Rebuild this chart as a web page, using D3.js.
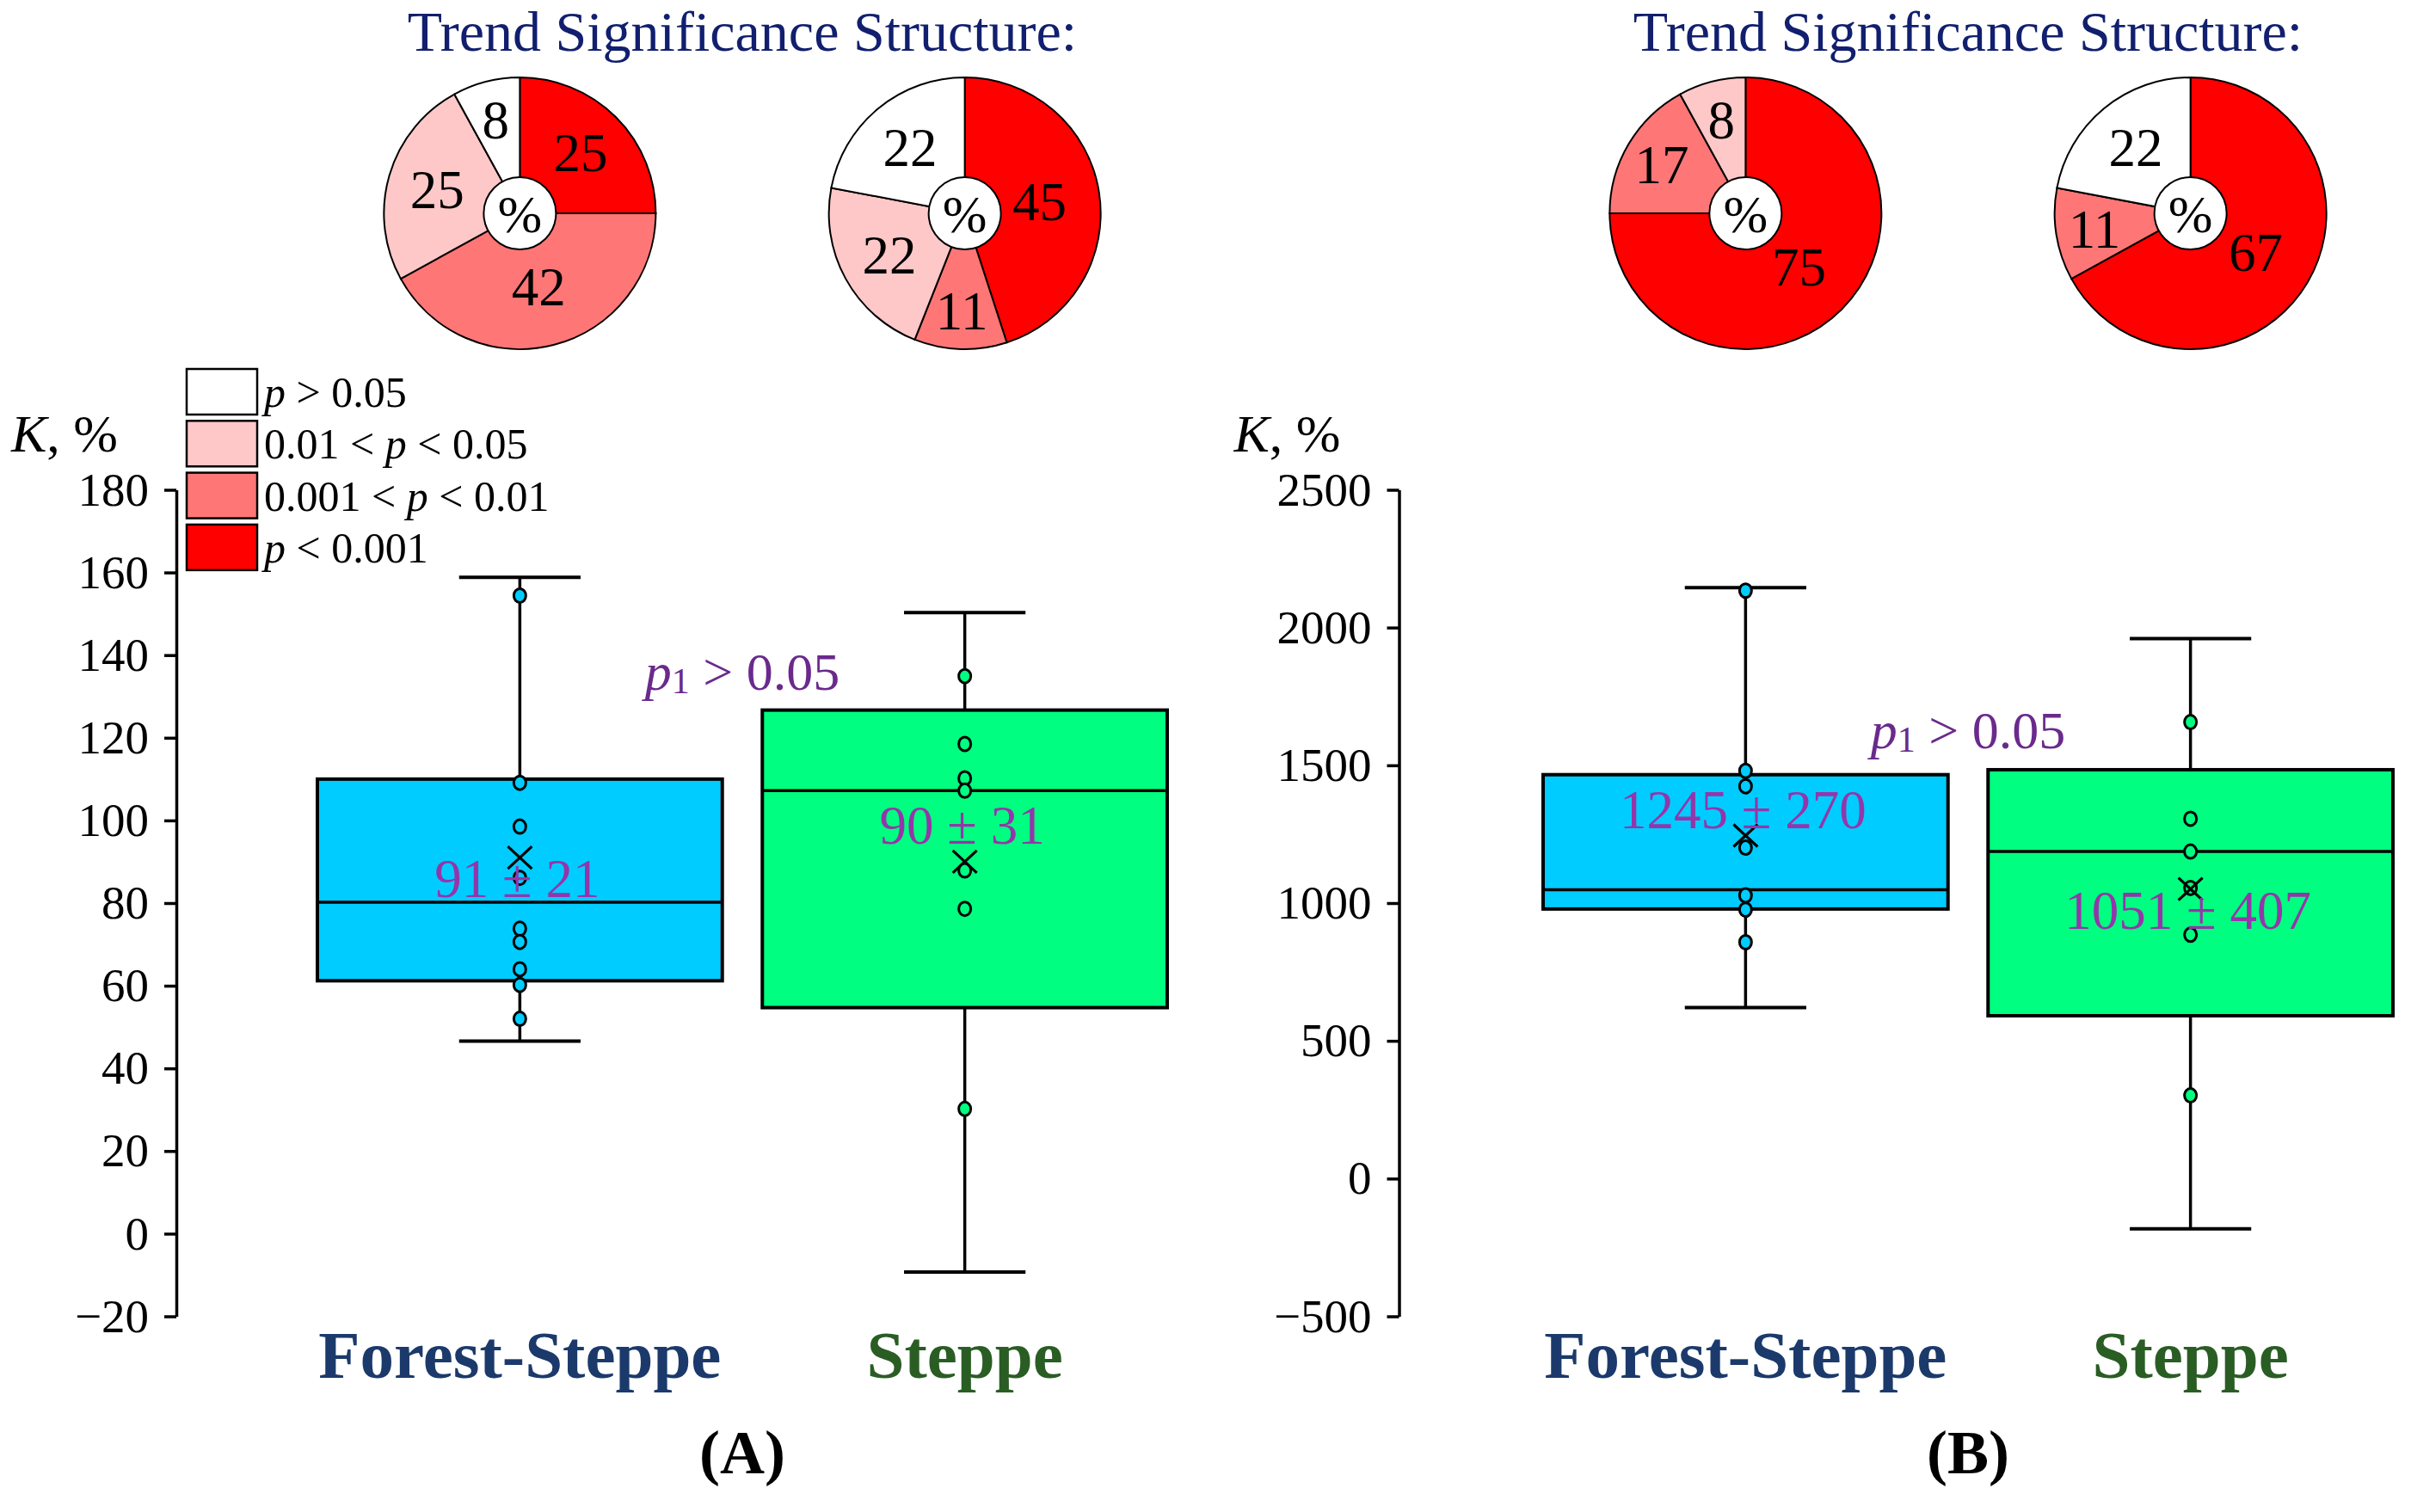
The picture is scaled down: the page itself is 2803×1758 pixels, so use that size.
<!DOCTYPE html>
<html>
<head>
<meta charset="utf-8">
<script src="https://cdn.jsdelivr.net/npm/d3@7"></script>
<style>
  html, body { margin: 0; padding: 0; background: #ffffff; }
  svg { display: block; }
</style>
</head>
<body>
<svg id="chart" width="2803" height="1758"></svg>
<script>
// ---------------- DATA ----------------
const categories = ["Forest-Steppe", "Steppe"];
const panelLetters = ["A", "B"];

// y tick labels
const yTicksA = [-20, 0, 20, 40, 60, 80, 100, 120, 140, 160, 180];
const yTicksB = [-500, 0, 500, 1000, 1500, 2000, 2500];

// Panel A box statistics: [Forest-Steppe, Steppe]
const lowA  = [46.6, -9.3];
const q1A   = [61.2, 54.7];
const medA  = [80.2, 107.2];
const q3A   = [110.0, 126.7];
const highA = [158.8, 150.3];
const meanA = [91, 90];
const sdA   = [21, 31];
const pointsA_FS = [154.4, 109.1, 98.5, 86.1, 73.8, 70.6, 64.0, 60.2, 52.0];
const pointsA_St = [134.9, 118.5, 110.2, 107.2, 87.9, 78.6, 30.2];

// Panel B box statistics
const lowB  = [621, -182];
const q1B   = [978.5, 591];
const medB  = [1048, 1187];
const q3B   = [1466, 1484];
const highB = [2145, 1960];
const meanB = [1245, 1051];
const sdB   = [270, 407];
const pointsB_FS = [2134, 1480, 1424, 1201, 1028, 976, 858];
const pointsB_St = [1657, 1306, 1187, 1055, 885, 302];

// Trend significance structure (%), order: p<0.001, 0.001<p<0.01, 0.01<p<0.05, p>0.05
const sigLevels = ["p < 0.001", "0.001 < p < 0.01", "0.01 < p < 0.05", "p > 0.05"];
const pieA_FS = [25, 42, 25, 8];
const pieA_St = [45, 11, 22, 22];
const pieB_FS = [75, 17, 8, 0];
const pieB_St = [67, 11, 0, 22];

const titleText = "Trend Significance Structure:";
const p1Text = ["p", "1", " > 0.05"];

// ---------------- STYLE ----------------
const SERIF = "'Liberation Serif', 'Times New Roman', serif";
const sigColors = ["#ff0000", "#ff7676", "#ffc8c8", "#ffffff"];
const boxColors = ["#00ccff", "#00ff80"];
const catColors = ["#1b3a6b", "#2a5d24"];
const meanColor = "#9436aa";
const p1Color = "#6a2a8c";
const titleColor = "#111f6e";

const svg = d3.select("#chart");
svg.append("rect").attr("width", 2803).attr("height", 1758).attr("fill", "#fff");

const panels = [
  {
    axisX: 205, rangeX: [369, 1357], domain: [-20, 180], ticks: yTicksA,
    low: lowA, q1: q1A, med: medA, q3: q3A, high: highA, mean: meanA, sd: sdA,
    points: [pointsA_FS, pointsA_St], pies: [pieA_FS, pieA_St],
    meanDy: [46, -21], p1Y: 802, legend: true
  },
  {
    axisX: 1626.5, rangeX: [1794, 2782], domain: [-500, 2500], ticks: yTicksB,
    low: lowB, q1: q1B, med: medB, q3: q3B, high: highB, mean: meanB, sd: sdB,
    points: [pointsB_FS, pointsB_St], pies: [pieB_FS, pieB_St],
    meanDy: [-9, 46], p1Y: 870, legend: false
  }
];

panels.forEach((P, pi) => {
  const g = svg.append("g");
  const y = d3.scaleLinear().domain(P.domain).range([1530.5, 569.5]);
  const x = d3.scaleBand().domain(categories).range(P.rangeX).paddingInner(0.09).paddingOuter(0);
  const bw = x.bandwidth();
  const cx = c => x(c) + bw / 2;
  const midX = (P.rangeX[0] + P.rangeX[1]) / 2;

  // ---- axis ----
  const ax = g.append("g")
    .attr("transform", `translate(${P.axisX},0)`)
    .call(d3.axisLeft(y).tickValues(P.ticks).tickSize(14).tickSizeOuter(0).tickPadding(18).tickFormat(d3.format("d")));
  ax.select(".domain").attr("stroke", "#000").attr("stroke-width", 3.5);
  ax.selectAll(".tick line").attr("stroke", "#000").attr("stroke-width", 3.5);
  ax.selectAll(".tick text").attr("font-family", SERIF).attr("font-size", 55).attr("fill", "#000");

  // axis title K, %
  const kt = g.append("text").attr("x", P.axisX - 192).attr("y", 525)
    .attr("font-family", SERIF).attr("font-size", 62).attr("fill", "#000");
  kt.append("tspan").attr("font-style", "italic").text("K");
  kt.append("tspan").text(", %");

  // ---- boxes ----
  categories.forEach((c, i) => {
    const xc = cx(c);
    const capW = bw * 0.3;
    // whisker line
    g.append("line").attr("x1", xc).attr("x2", xc)
      .attr("y1", y(P.low[i])).attr("y2", y(P.high[i]))
      .attr("stroke", "#000").attr("stroke-width", 3.5);
    // caps
    [P.low[i], P.high[i]].forEach(v => {
      g.append("line").attr("x1", xc - capW / 2).attr("x2", xc + capW / 2)
        .attr("y1", y(v)).attr("y2", y(v))
        .attr("stroke", "#000").attr("stroke-width", 4);
    });
    // box
    g.append("rect").attr("x", x(c)).attr("width", bw)
      .attr("y", y(P.q3[i])).attr("height", y(P.q1[i]) - y(P.q3[i]))
      .attr("fill", boxColors[i]).attr("stroke", "#000").attr("stroke-width", 4);
    // median
    g.append("line").attr("x1", x(c)).attr("x2", x(c) + bw)
      .attr("y1", y(P.med[i])).attr("y2", y(P.med[i]))
      .attr("stroke", "#000").attr("stroke-width", 3.5);
    // points
    g.selectAll(null).data(P.points[i]).enter().append("ellipse")
      .attr("cx", xc).attr("cy", d => y(d)).attr("rx", 7).attr("ry", 8)
      .attr("fill", boxColors[i]).attr("stroke", "#000").attr("stroke-width", 3);
    // mean marker
    const my = y(P.mean[i]);
    g.append("path")
      .attr("d", `M${xc - 14},${my - 13}L${xc + 14},${my + 13}M${xc - 14},${my + 13}L${xc + 14},${my - 13}`)
      .attr("stroke", "#000").attr("stroke-width", 3.2).attr("fill", "none");
    // mean ± sd label
    g.append("text").attr("x", xc - 3).attr("y", my + P.meanDy[i])
      .attr("text-anchor", "middle").attr("font-family", SERIF).attr("font-size", 63)
      .attr("fill", meanColor).text(`${P.mean[i]} \u00B1 ${P.sd[i]}`);
    // category label
    g.append("text").attr("x", xc).attr("y", 1602)
      .attr("text-anchor", "middle").attr("font-family", SERIF).attr("font-size", 79)
      .attr("font-weight", "bold").attr("fill", catColors[i]).text(c);

    // ---- pie ----
    const pie = d3.pie().sort(null).value(d => d)(P.pies[i]);
    const R = 158, hole = 42;
    const arc = d3.arc().innerRadius(0).outerRadius(R);
    const pg = g.append("g").attr("transform", `translate(${xc},248)`);
    pg.selectAll("path").data(pie.filter(d => d.value > 0)).enter().append("path")
      .attr("d", arc).attr("fill", d => sigColors[d.index])
      .attr("stroke", "#000").attr("stroke-width", 2);
    pg.append("circle").attr("r", hole).attr("fill", "#fff").attr("stroke", "#000").attr("stroke-width", 2);
    pg.append("text").attr("text-anchor", "middle").attr("dy", "0.35em")
      .attr("font-family", SERIF).attr("font-size", 62).attr("fill", "#000").text("%");
    pg.selectAll(".lbl").data(pie.filter(d => d.value > 0)).enter().append("text")
      .attr("class", "lbl")
      .attr("transform", d => {
        const a = (d.startAngle + d.endAngle) / 2;
        const r = d.value < 20 ? 113 : (d.value > 40 ? 88 : 100);
        return `translate(${Math.sin(a) * r},${-Math.cos(a) * r})`;
      })
      .attr("text-anchor", "middle").attr("dy", "0.35em")
      .attr("font-family", SERIF).attr("font-size", 63).attr("fill", "#000")
      .text(d => d.value);
  });

  // pie title
  g.append("text").attr("x", midX).attr("y", 59).attr("text-anchor", "middle")
    .attr("font-family", SERIF).attr("font-size", 66).attr("fill", titleColor).text(titleText);

  // p1 label
  const pt = g.append("text").attr("x", midX).attr("y", P.p1Y).attr("text-anchor", "middle")
    .attr("font-family", SERIF).attr("font-size", 62).attr("fill", p1Color);
  pt.append("tspan").attr("font-style", "italic").text(p1Text[0]);
  pt.append("tspan").attr("font-size", 42).attr("dy", 4).text(p1Text[1]);
  pt.append("tspan").attr("dy", -4).text(p1Text[2]);

  // panel letter
  const lt = g.append("text").attr("x", midX).attr("y", 1713).attr("text-anchor", "middle")
    .attr("font-family", SERIF).attr("font-size", 72).attr("font-weight", "bold").attr("fill", "#000");
  lt.text(`(${panelLetters[pi]})`);

  // legend
  if (P.legend) {
    const order = [3, 2, 1, 0];
    order.forEach((k, j) => {
      const ly = 429 + j * 60.3;
      g.append("rect").attr("x", P.axisX + 12).attr("y", ly).attr("width", 82).attr("height", 53)
        .attr("fill", sigColors[k]).attr("stroke", "#000").attr("stroke-width", 2.5);
      const t = g.append("text").attr("x", P.axisX + 102).attr("y", ly + 44)
        .attr("font-family", SERIF).attr("font-size", 50).attr("fill", "#000");
      const parts = sigLevels[k].split("p");
      parts.forEach((s, m) => {
        if (m > 0) t.append("tspan").attr("font-style", "italic").text("p");
        if (s.length) t.append("tspan").text(s);
      });
    });
  }
});
</script>
</body>
</html>
